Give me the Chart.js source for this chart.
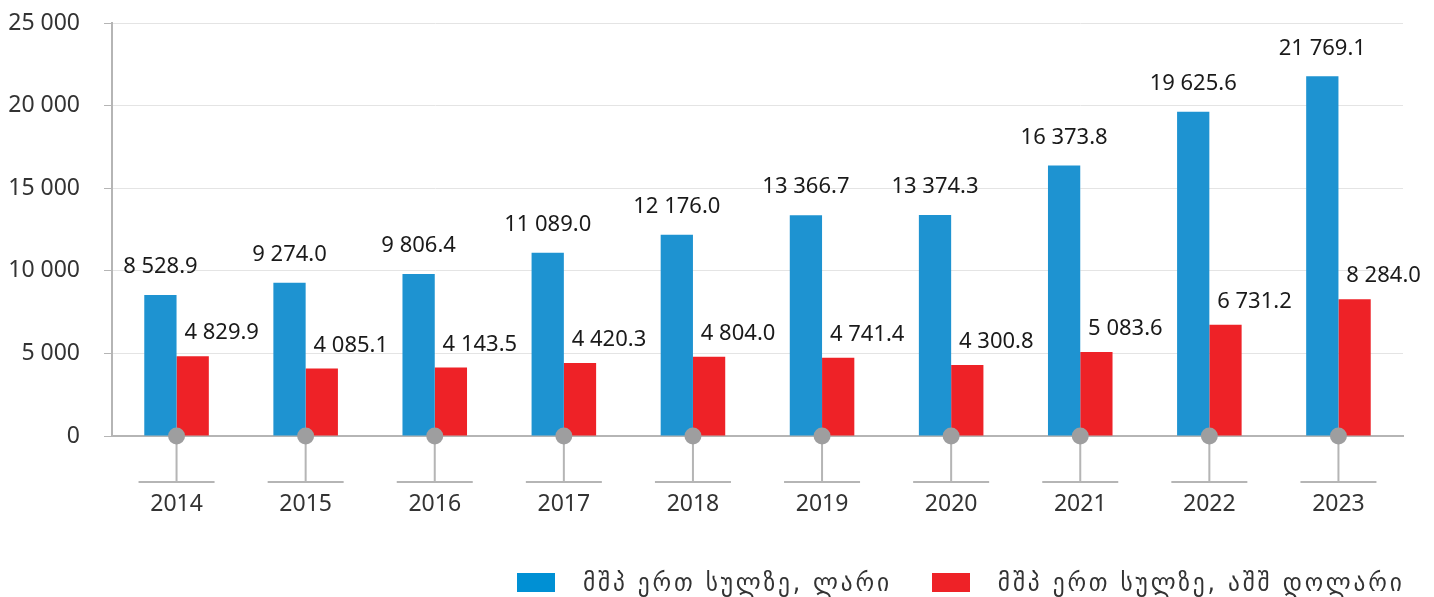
<!DOCTYPE html>
<html><head><meta charset="utf-8">
<script src="https://cdn.jsdelivr.net/npm/chart.js@4.4.0/dist/chart.umd.min.js"></script>
<style>
html,body{margin:0;padding:0;background:#fff;}
#wrap{position:relative;width:1434px;height:597px;overflow:hidden;}
#legend{position:absolute;top:570px;left:517px;height:24px;display:flex;align-items:center;font-family:"DejaVu Sans Condensed","DejaVu Sans",sans-serif;font-size:26px;letter-spacing:2.8px;color:#333;white-space:nowrap;}
#legend .box{display:inline-block;width:38px;height:19px;margin-right:28px;}
#legend .item{display:flex;align-items:center;}
</style></head><body>
<div id="wrap"><canvas id="c" style="width:1434px;height:597px"></canvas>
<div id="legend"></div></div>
<script>
const categories = ['2014','2015','2016','2017','2018','2019','2020','2021','2022','2023'];
const gelPerCapita = [8528.9, 9274.0, 9806.4, 11089.0, 12176.0, 13366.7, 13374.3, 16373.8, 19625.6, 21769.1];
const usdPerCapita = [4829.9, 4085.1, 4143.5, 4420.3, 4804.0, 4741.4, 4300.8, 5083.6, 6731.2, 8284.0];
const seriesNames = ['მშპ ერთ სულზე, ლარი', 'მშპ ერთ სულზე, აშშ დოლარი'];
const yTicks = [0, 5000, 10000, 15000, 20000, 25000];

const barColors = ['#1e93d1', '#ee2227'];
const legendColors = ['#0090d4', '#ee2227'];
const NUMFONT = '"Noto Sans", "Open Sans", sans-serif';

function fmt(v, dec) {
  const s = dec ? v.toFixed(dec) : String(Math.round(v));
  const parts = s.split('.');
  parts[0] = parts[0].replace(/\B(?=(\d{3})+(?!\d))/g, ' ');
  return parts.join('.');
}

const decoPlugin = {
  id: 'deco',
  afterDatasetsDraw(chart) {
    const ctx = chart.ctx;
    const xs = chart.scales.x;
    const ys = chart.scales.y;
    const y0 = ys.getPixelForValue(0);
    ctx.save();
    categories.forEach((c, i) => {
      const cx = xs.getPixelForValue(i);
      ctx.strokeStyle = '#b5b5b5';
      ctx.lineWidth = 2;
      ctx.beginPath();
      ctx.moveTo(cx, y0);
      ctx.lineTo(cx, y0 + 46);
      ctx.moveTo(cx - 38, y0 + 46);
      ctx.lineTo(cx + 38, y0 + 46);
      ctx.stroke();
      ctx.fillStyle = '#9e9e9f';
      ctx.beginPath();
      ctx.arc(cx, y0, 8.5, 0, Math.PI * 2);
      ctx.fill();
    });
    ctx.font = '22px ' + NUMFONT;
    ctx.fillStyle = '#1a1a1a';
    ctx.textAlign = 'center';
    ctx.textBaseline = 'middle';
    chart.data.datasets.forEach((ds, di) => {
      const meta = chart.getDatasetMeta(di);
      meta.data.forEach((bar, i) => {
        const txt = fmt(ds.data[i], 1);
        if (di === 0) ctx.fillText(txt, bar.x, bar.y - 28);
        else ctx.fillText(txt, bar.x + 29, bar.y - 23);
      });
    });
    ctx.restore();
  }
};

const chart = new Chart(document.getElementById('c'), {
  type: 'bar',
  data: {
    labels: categories,
    datasets: [
      { label: seriesNames[0], data: gelPerCapita, backgroundColor: barColors[0], categoryPercentage: 0.5, barPercentage: 1 },
      { label: seriesNames[1], data: usdPerCapita, backgroundColor: barColors[1], categoryPercentage: 0.5, barPercentage: 1 }
    ]
  },
  options: {
    responsive: false,
    animation: false,
    devicePixelRatio: 1,
    layout: { padding: { top: 23, right: 31, left: 0, bottom: 0 } },
    plugins: { legend: { display: false }, tooltip: { enabled: false } },
    scales: {
      x: {
        grid: { display: false, drawTicks: false },
        border: { display: true, color: '#b5b5b5', width: 2 },
        ticks: { padding: 55, color: '#333', font: { family: NUMFONT, size: 23 } },
        afterFit(s) { s.height = 161; s.paddingLeft = 0; s.paddingRight = 0; }
      },
      y: {
        min: 0, max: 25000,
        afterBuildTicks(s) { s.ticks = yTicks.map(v => ({ value: v })); },
        grid: { color: '#e4e4e4', lineWidth: 1, tickColor: '#b5b5b5', tickLength: 8 },
        border: { display: true, color: '#b5b5b5', width: 2 },
        ticks: { padding: 24, color: '#333', font: { family: NUMFONT, size: 23 }, callback: v => fmt(v) },
        afterFit(s) { s.width = 112; s.paddingTop = 0; s.paddingBottom = 0; }
      }
    }
  },
  plugins: [decoPlugin]
});
chart.canvas.style.width = '1434px';
chart.canvas.style.height = '597px';
chart.resize(1434, 597);

const lg = document.getElementById('legend');
seriesNames.forEach((n, i) => {
  const it = document.createElement('div');
  it.className = 'item';
  if (i > 0) it.style.marginLeft = '40px';
  it.innerHTML = '<span class="box" style="background:' + legendColors[i] + '"></span><span>' + n + '</span>';
  lg.appendChild(it);
});
</script>
</body></html>
